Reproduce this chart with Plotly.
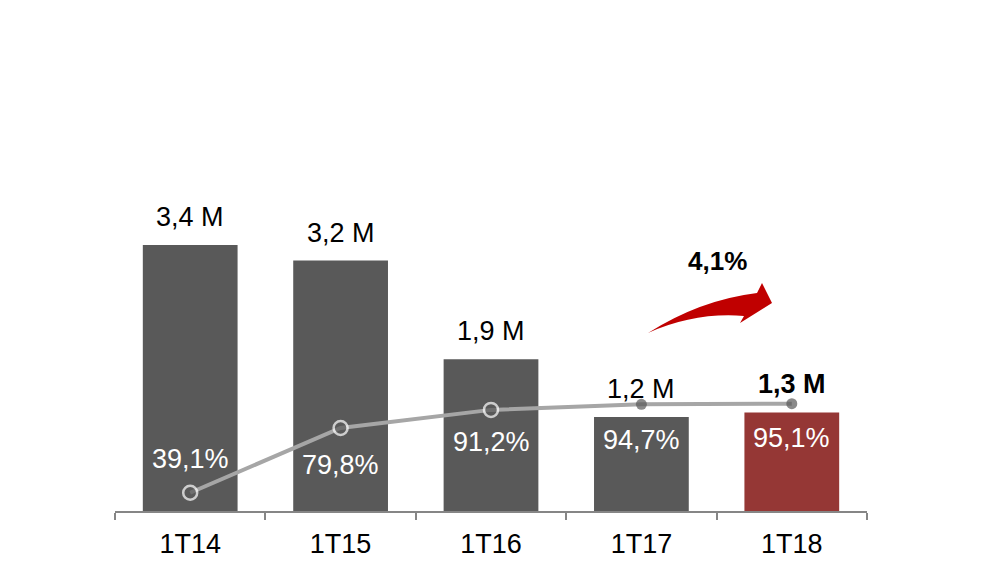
import plotly.graph_objects as go

categories = ["1T14", "1T15", "1T16", "1T17", "1T18"]
volumes = [3.4, 3.2, 1.94, 1.2, 1.26]
volume_labels = ["3,4 M", "3,2 M", "1,9 M", "1,2 M", "<b>1,3 M</b>"]
shares = [39.1, 79.8, 91.2, 94.7, 95.1]
share_labels = ["39,1%", "79,8%", "91,2%", "94,7%", "95,1%"]
growth_label = "<b>4,1%</b>"

# styling
bar_colors = ["#595959", "#595959", "#595959", "#595959", "#953735"]
share_label_shift = [34, -37, -32, -36, -34]
FONT = "Liberation Sans, Arial, sans-serif"

W, H = 995, 575
ML, MR, MT, MB = 115, 128, 0, 64
PW, PH = W - ML - MR, H - MT - MB

fig = go.Figure()
fig.add_trace(go.Bar(
    x=categories, y=volumes, marker=dict(color=bar_colors, line=dict(width=0)),
    width=0.63, hoverinfo="skip", showlegend=False,
))
fig.add_trace(go.Scatter(
    x=categories, y=shares, yaxis="y2", mode="lines+markers",
    line=dict(color="#a6a6a6", width=4),
    marker=dict(
        color="#595959",
        size=[14, 14, 14, 11, 11],
        line=dict(color=["white", "white", "white", "#595959", "#595959"], width=[2.5, 2.5, 2.5, 0, 0]),
    ),
    hoverinfo="skip", showlegend=False,
))

annotations = []
for c, v, t in zip(categories, volumes, volume_labels):
    annotations.append(dict(
        x=c, y=v, xref="x", yref="y", text=t, showarrow=False,
        yanchor="middle", yshift=28, font=dict(family=FONT, size=27, color="#000000"),
    ))
for c, s, t, sh in zip(categories, shares, share_labels, share_label_shift):
    annotations.append(dict(
        x=c, y=s, xref="x", yref="y2", text=t, showarrow=False,
        yanchor="middle", yshift=sh, font=dict(family=FONT, size=27, color="#ffffff"),
    ))


def px(x, y):
    return (x - ML) / PW, (MT + PH - y) / PH


annotations.append(dict(
    x=px(717, 261)[0], y=px(717, 261)[1], xref="paper", yref="paper",
    text=growth_label, showarrow=False, xanchor="center", yanchor="middle",
    font=dict(family=FONT, size=26, color="#000000"),
))

pts = [(648, 333), (700, 300), (757, 293), (762, 283), (772, 303), (740, 323), (744, 316), (695, 312), (648, 333)]
p = [px(*q) for q in pts]
path = (f"M {p[0][0]},{p[0][1]} Q {p[1][0]},{p[1][1]} {p[2][0]},{p[2][1]} "
        f"L {p[3][0]},{p[3][1]} L {p[4][0]},{p[4][1]} L {p[5][0]},{p[5][1]} "
        f"L {p[6][0]},{p[6][1]} Q {p[7][0]},{p[7][1]} {p[8][0]},{p[8][1]} Z")

fig.update_layout(
    width=W, height=H,
    margin=dict(l=ML, r=MR, t=MT, b=MB),
    paper_bgcolor="white", plot_bgcolor="white",
    font=dict(family=FONT, size=27, color="#000000"),
    xaxis=dict(
        showline=True, linecolor="#868686", linewidth=2,
        ticks="outside", tickson="boundaries", ticklen=7, tickwidth=2, tickcolor="#868686",
        tickfont=dict(family=FONT, size=27, color="#000000"),
        ticklabelstandoff=8, showgrid=False, zeroline=False, fixedrange=True,
    ),
    yaxis=dict(visible=False, range=[0, 6.53], fixedrange=True),
    yaxis2=dict(visible=False, range=[27.6, 349.0], overlaying="y", fixedrange=True),
    annotations=annotations,
    shapes=[dict(type="path", xref="paper", yref="paper", path=path,
                 fillcolor="#c00000", line=dict(width=0), layer="above")],
)

fig.write_html("out.html")
